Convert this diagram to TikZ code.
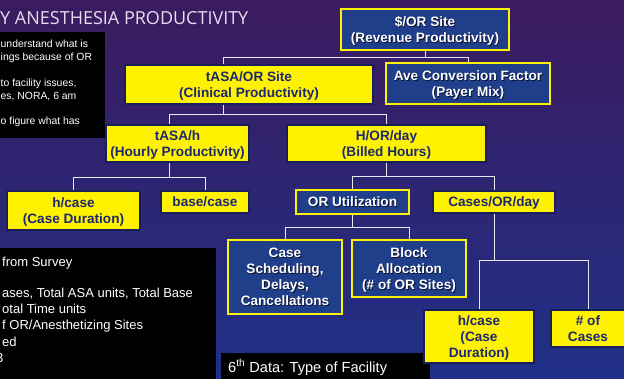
\documentclass[tikz,border=0pt]{standalone}
\usepackage{fontspec}
\setmainfont{Liberation Sans}
\newfontfamily\titlefont{Open Sans}
\usetikzlibrary{calc}

\definecolor{bgtop}{HTML}{3C1B5F}
\definecolor{bgmid}{HTML}{2E2470}
\definecolor{bgbot}{HTML}{1F3087}
\definecolor{boxblue}{HTML}{1F3F8A}
\definecolor{ybord}{HTML}{1A1F5A}
\definecolor{navytext}{HTML}{1C2870}
\definecolor{titlecol}{HTML}{E6DDF0}
\definecolor{linkcol}{HTML}{E8E8F2}
\definecolor{shadowcol}{HTML}{0A0F30}

% white text with a small dark drop shadow
\newcommand\shd[1]{\leavevmode\rlap{\raisebox{-0.9pt}{\kern0.9pt\textcolor{shadowcol}{#1}}}#1}

\tikzset{
  boxfont/.style={font=\bfseries\fontsize{13.6}{16}\selectfont, text depth=0pt},
  ybox/.style={boxfont, draw=ybord, line width=1.4pt, fill=yellow,
    text=navytext, align=center, inner sep=0pt},
  bbox/.style={boxfont, draw=yellow, line width=1.4pt, fill=boxblue,
    text=white, align=center, inner sep=0pt},
  link/.style={draw=linkcol, line width=0.9pt},
  note/.style={fill=black, inner sep=0pt, draw=none},
  notetext/.style={text=white, align=left, inner sep=0pt},
}

\begin{document}
\begin{tikzpicture}[x=1pt,y=-1pt]
\useasboundingbox (0,0) rectangle (624,379);
\shade[top color=bgtop, middle color=bgmid, bottom color=bgbot] (0,0) rectangle (624,379);

% slide title
\node[anchor=base west, inner sep=0pt, text=titlecol,
      font=\titlefont\fontsize{18}{18}\selectfont] (title) at (0,24.5) {Y ANESTHESIA PRODUCTIVITY};

% black note panels
\node[note, anchor=north west, minimum width=105, minimum height=106] (tlnote) at (0,32) {};
\node[notetext, anchor=north west, font=\fontsize{10.4}{13}\selectfont] (tltext) at (0.5,39.5)
  {understand what is\\ings because of OR\\[13pt]to facility issues,\\es, NORA, 6 am\\[12pt]o figure what has};

\node[note, anchor=north west, minimum width=216, minimum height=131] (blnote) at (0,248) {};
\node[notetext, anchor=north west, font=\fontsize{13}{16.4}\selectfont] (bltext) at (2,257)
  {from Survey\\[14pt]ases, Total ASA units, Total Base\\otal Time units\\f OR/Anesthetizing Sites\\ed\\\hspace*{-6pt}3};

\node[note, anchor=north west, minimum width=209, minimum height=26] (facnote) at (221,353) {};
\node[notetext, anchor=base west, font=\fontsize{14.6}{16}\selectfont] (factext) at (228,372)
  {6\textsuperscript{th} Data: Type of Facility};

% boxes of the productivity tree
\node[bbox, minimum width=168, minimum height=41] (rev)   at (425,29.5)  {\shd{\$/OR Site}\\\shd{(Revenue Productivity)}};
\node[ybox, minimum width=248, minimum height=39] (clin)  at (249,84.5)  {tASA/OR Site\\(Clinical Productivity)};
\node[bbox, minimum width=164, minimum height=41] (ave)   at (468,83.5)  {\shd{Ave Conversion Factor}\\\shd{(Payer Mix)}};
\node[ybox, minimum width=143, minimum height=37] (tasah) at (177.5,143.5) {tASA/h\\(Hourly Productivity)};
\node[ybox, minimum width=199, minimum height=37] (hord)  at (386.5,143.5) {H/OR/day\\(Billed Hours)};
\node[ybox, minimum width=133, minimum height=39] (hc1)   at (73.5,210.5) {h/case\\(Case Duration)};
\node[ybox, minimum width=88,  minimum height=22] (base)  at (205,202)    {base/case};
\node[bbox, minimum width=113, minimum height=24] (oru)   at (352.5,202)  {\shd{OR Utilization}};
\node[ybox, minimum width=122, minimum height=22] (cpd)   at (494,202)    {Cases/OR/day};
\node[bbox, minimum width=114, minimum height=74] (sched) at (285,277)    {\shd{Case}\\\shd{Scheduling,}\\\shd{Delays,}\\\shd{Cancellations}};
\node[bbox, minimum width=114, minimum height=57] (block) at (409,268.5)  {\shd{Block}\\\shd{Allocation}\\\shd{(\# of OR Sites)}};
\node[ybox, minimum width=110, minimum height=53] (hc2)   at (479,336.5)  {h/case\\(Case\\Duration)};
\node[ybox, minimum width=74,  minimum height=37] (ncas)  at (588,328.5)  {\# of\\Cases};

% connectors
\draw[link] (rev.south) -- ++(0,7) coordinate (j1);
\draw[link] ([xshift=-26]clin.north) |- (j1) -| (ave.north);
\draw[link] ([xshift=-26]clin.south) -- ++(0,10) coordinate (j2);
\draw[link] ([xshift=-8.5]tasah.north) |- (j2) -| (hord.north);
\draw[link] ([xshift=-8.5]tasah.south) -- ++(0,15) coordinate (j3);
\draw[link] (hc1.north) |- (j3) -| (base.north);
\draw[link] (hord.south) -- ++(0,14) coordinate (j4);
\draw[link] (oru.north) |- (j4) -| (cpd.north);
\draw[link] (oru.south) -- ++(0,13) coordinate (j5);
\draw[link] (sched.north) |- (j5) -| (block.north);
\draw[link] (cpd.south) -- ++(0,47) coordinate (j6);
\draw[link] (hc2.north) |- (j6) -| (ncas.north);
\end{tikzpicture}
\end{document}
